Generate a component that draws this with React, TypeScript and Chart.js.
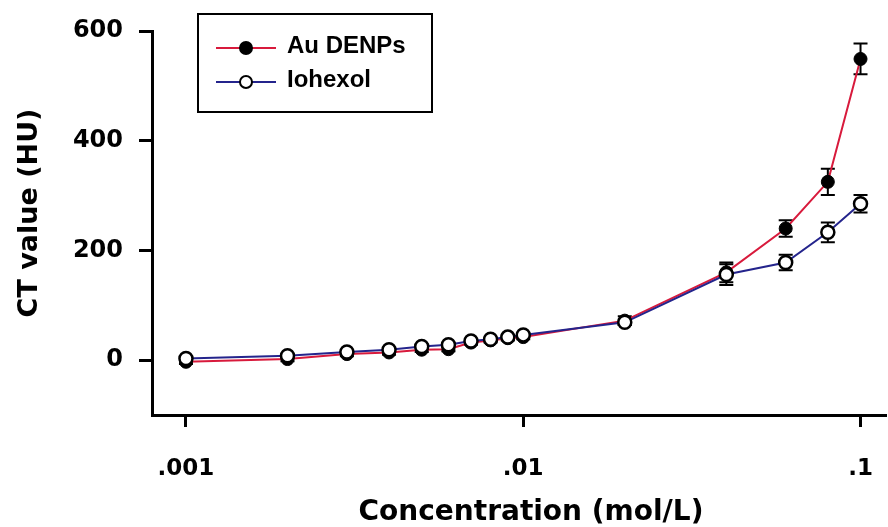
import React, { useEffect, useRef } from "react";
import { Chart, registerables } from "chart.js";

Chart.register(...registerables);

const concentrations = [0.001, 0.002, 0.003, 0.004, 0.005, 0.006, 0.007, 0.008, 0.009, 0.01, 0.02, 0.04, 0.06, 0.08, 0.1];
const auValues = [-3, 2, 11, 14, 19, 20, 32, 36, 40, 42, 72, 160, 240, 325, 549];
const auErrors = [4, 4, 4, 4, 4, 4, 4, 4, 4, 4, 8, 18, 15, 24, 28];
const iohexolValues = [3, 8, 15, 19, 25, 28, 35, 38, 42, 46, 69, 156, 178, 233, 285];
const iohexolErrors = [3, 3, 3, 3, 3, 3, 3, 3, 3, 3, 5, 19, 14, 18, 16];
const xTickValues = [0.001, 0.01, 0.1];
const xTickLabels = [".001", ".01", ".1"];
const yTickValues = [0, 200, 400, 600];
const seriesNames = ["Au DENPs", "Iohexol"];
const xTitle = "Concentration (mol/L)";
const yTitle = "CT value (HU)";

const RED = "#d81a3c";
const BLUE = "#24248c";

const errorBarPlugin = {
  id: "errorBars",
  beforeDatasetsDraw(chart: any) {
    const ctx = chart.ctx;
    const xs = chart.scales.x;
    const ys = chart.scales.y;
    const errs = [auErrors, iohexolErrors];
    const vals = [auValues, iohexolValues];
    ctx.save();
    ctx.strokeStyle = "#000";
    ctx.lineWidth = 2;
    for (let d = 0; d < 2; d++) {
      for (let i = 0; i < concentrations.length; i++) {
        const x = xs.getPixelForValue(concentrations[i]);
        const y1 = ys.getPixelForValue(vals[d][i] + errs[d][i]);
        const y2 = ys.getPixelForValue(vals[d][i] - errs[d][i]);
        ctx.beginPath();
        ctx.moveTo(x, y1);
        ctx.lineTo(x, y2);
        ctx.moveTo(x - 7, y1);
        ctx.lineTo(x + 7, y1);
        ctx.moveTo(x - 7, y2);
        ctx.lineTo(x + 7, y2);
        ctx.stroke();
      }
    }
    ctx.restore();
  },
};

const legendPlugin = {
  id: "boxLegend",
  afterDraw(chart: any) {
    const ctx = chart.ctx;
    ctx.save();
    ctx.strokeStyle = "#000";
    ctx.lineWidth = 2;
    ctx.strokeRect(198, 14, 234, 98);
    const rows = [
      { y: 48, color: RED, fill: "#000" },
      { y: 82, color: BLUE, fill: "#fff" },
    ];
    rows.forEach((r, i) => {
      ctx.strokeStyle = r.color;
      ctx.lineWidth = 2;
      ctx.beginPath();
      ctx.moveTo(216, r.y);
      ctx.lineTo(276, r.y);
      ctx.stroke();
      ctx.beginPath();
      ctx.arc(246, r.y, 6, 0, Math.PI * 2);
      ctx.fillStyle = r.fill;
      ctx.fill();
      ctx.strokeStyle = "#000";
      ctx.lineWidth = 2;
      ctx.stroke();
      ctx.fillStyle = "#000";
      ctx.font = "bold 24px 'Liberation Sans', Arial, sans-serif";
      ctx.textBaseline = "middle";
      ctx.textAlign = "left";
      ctx.fillText(seriesNames[i], 287, r.y - 2);
    });
    // axis titles
    ctx.font = "bold 28px 'DejaVu Sans', sans-serif";
    ctx.textAlign = "center";
    ctx.textBaseline = "alphabetic";
    ctx.fillText(xTitle, 531, 520);
    ctx.translate(37, 213);
    ctx.rotate(-Math.PI / 2);
    ctx.font = "bold 27px 'DejaVu Sans', sans-serif";
    ctx.fillText(yTitle, 0, 0);
    ctx.restore();
  },
};

export default function App() {
  const ref = useRef<HTMLCanvasElement | null>(null);
  useEffect(() => {
    if (!ref.current) return;
    const chart = new Chart(ref.current, {
      type: "line",
      data: {
        datasets: [
          {
            label: seriesNames[0],
            data: concentrations.map((c, i) => ({ x: c, y: auValues[i] })),
            borderColor: RED,
            borderWidth: 2,
            pointRadius: 6.5,
            pointBackgroundColor: "#000",
            pointBorderColor: "#000",
            pointBorderWidth: 1,
            order: 2,
          },
          {
            label: seriesNames[1],
            data: concentrations.map((c, i) => ({ x: c, y: iohexolValues[i] })),
            borderColor: BLUE,
            borderWidth: 2,
            pointRadius: 6.5,
            pointBackgroundColor: "#fff",
            pointBorderColor: "#000",
            pointBorderWidth: 2.5,
            order: 1,
          },
        ],
      },
      options: {
        responsive: false,
        animation: false,
        layout: { autoPadding: false, padding: { top: 31, right: 2, left: 0, bottom: 0 } },
        plugins: { legend: { display: false }, tooltip: { enabled: false } },
        scales: {
          x: {
            type: "logarithmic",
            min: 0.000793,
            max: 0.119,
            afterBuildTicks: (s: any) => {
              s.ticks = xTickValues.map((v) => ({ value: v }));
            },
            afterFit: (s: any) => {
              s.height = 112;
              s.paddingLeft = 0;
              s.paddingRight = 0;
            },
            ticks: {
              autoSkip: false,
              maxRotation: 0,
              padding: 28,
              color: "#000",
              font: { family: "'DejaVu Sans'", weight: "bold", size: 23 },
              callback: (v: any) => {
                const idx = xTickValues.findIndex((t) => Math.abs(t - v) < 1e-9);
                return idx >= 0 ? xTickLabels[idx] : "";
              },
            },
            grid: { display: true, drawOnChartArea: false, tickLength: 12, tickColor: "#000", tickWidth: 3 },
            border: { display: true, color: "#000", width: 3 },
          },
          y: {
            type: "linear",
            min: -100,
            max: 600,
            afterBuildTicks: (s: any) => {
              s.ticks = yTickValues.map((v) => ({ value: v }));
            },
            afterFit: (s: any) => {
              s.width = 152;
              s.paddingTop = 0;
              s.paddingBottom = 0;
            },
            ticks: {
              padding: 16,
              color: "#000",
              font: { family: "'DejaVu Sans'", weight: "bold", size: 24 },
            },
            grid: { display: true, drawOnChartArea: false, tickLength: 13, tickColor: "#000", tickWidth: 3 },
            border: { display: true, color: "#000", width: 3 },
          },
        },
      },
      plugins: [errorBarPlugin, legendPlugin],
    } as any);
    return () => chart.destroy();
  }, []);
  return (
    <div style={{ position: "absolute", left: 0, top: 0, width: 888, height: 527, background: "#fff" }}>
      <canvas ref={ref} width={888} height={527} style={{ display: "block" }} />
    </div>
  );
}
